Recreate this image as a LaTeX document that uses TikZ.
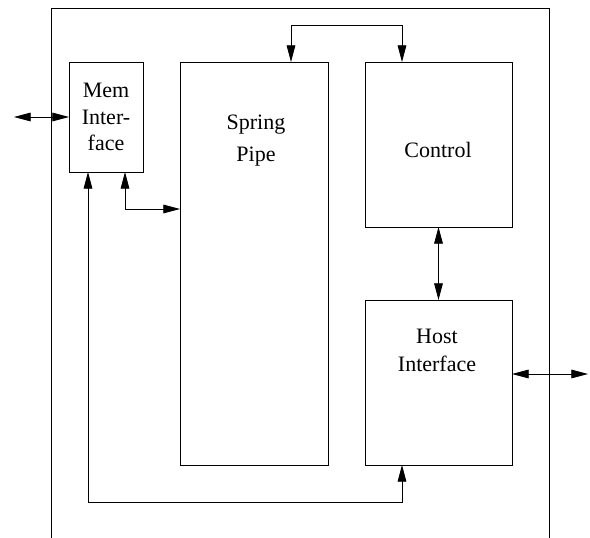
\documentclass[tikz,border=0pt]{standalone}
\usepackage{fontspec}
\setmainfont{Liberation Serif}
\usetikzlibrary{arrows.meta, positioning}
\tikzset{
    unitbox/.style={rectangle, draw=black, line width=0.6pt, inner sep=0pt, outer sep=0pt, align=center, font=\fontsize{16.5}{20}\selectfont},
    boxlabel/.style={anchor=base, align=center, inner sep=0pt, font=\fontsize{16.5}{20}\selectfont},
}

\begin{document}
\begin{tikzpicture}[
    x=0.75pt, y=-0.75pt,
    biarrow/.style={{Triangle[length=12.5pt,width=6.5pt]}-{Triangle[length=12.5pt,width=6.5pt]}, line width=0.6pt, black},
    frameline/.style={line width=0.6pt, black}
]
\useasboundingbox (0,0) rectangle (590,538);

\draw[frameline] (51,538) -- (51,8) -- (549,8) -- (549,538);

\node[unitbox, minimum width=55.5pt, minimum height=82.5pt] (mem) at (106,117) {Mem\\Inter-\\face};
\node[unitbox, minimum width=111pt, minimum height=302.25pt] (pipe) at (254,263.5) {};
\node[unitbox, minimum width=110.25pt, minimum height=123.75pt] (ctrl) at (438.5,144.5) {};
\node[unitbox, minimum width=110.25pt, minimum height=123.75pt, below=54.75pt of ctrl] (host) {};

% base anchor sits on the last line
\node[boxlabel, font=\fontsize{16.5}{24}\selectfont] (pipe-label) at (256,162) {Spring\\Pipe};
\node[boxlabel] (ctrl-label) at (438,158) {Control};
\node[boxlabel, font=\fontsize{16.5}{21.5}\selectfont] (host-label) at (437,372) {Host\\Interface};

\coordinate (mem-ext) at (14,117);
\coordinate (host-ext) at (588,374);
\coordinate (top-l) at (291,25);
\coordinate (top-r) at (402,25);
\coordinate (mp-bend) at (125,209);
\coordinate (bot-l) at (88,502);
\coordinate (bot-r) at (402,502);

\draw[biarrow] (mem-ext) -- (mem.west |- mem-ext);
\draw[biarrow] (host.east |- host-ext) -- (host-ext);
\draw[biarrow] (pipe.north -| top-l) -- (top-l) -- (top-r) -- (ctrl.north -| top-r);
\draw[biarrow] (mem.south -| mp-bend) -- (mp-bend) -- (pipe.west |- mp-bend);
\draw[biarrow] (mem.south -| bot-l) -- (bot-l) -- (bot-r) -- (host.south -| bot-r);
\draw[biarrow] (ctrl.south) -- (host.north);

\end{tikzpicture}
\end{document}
